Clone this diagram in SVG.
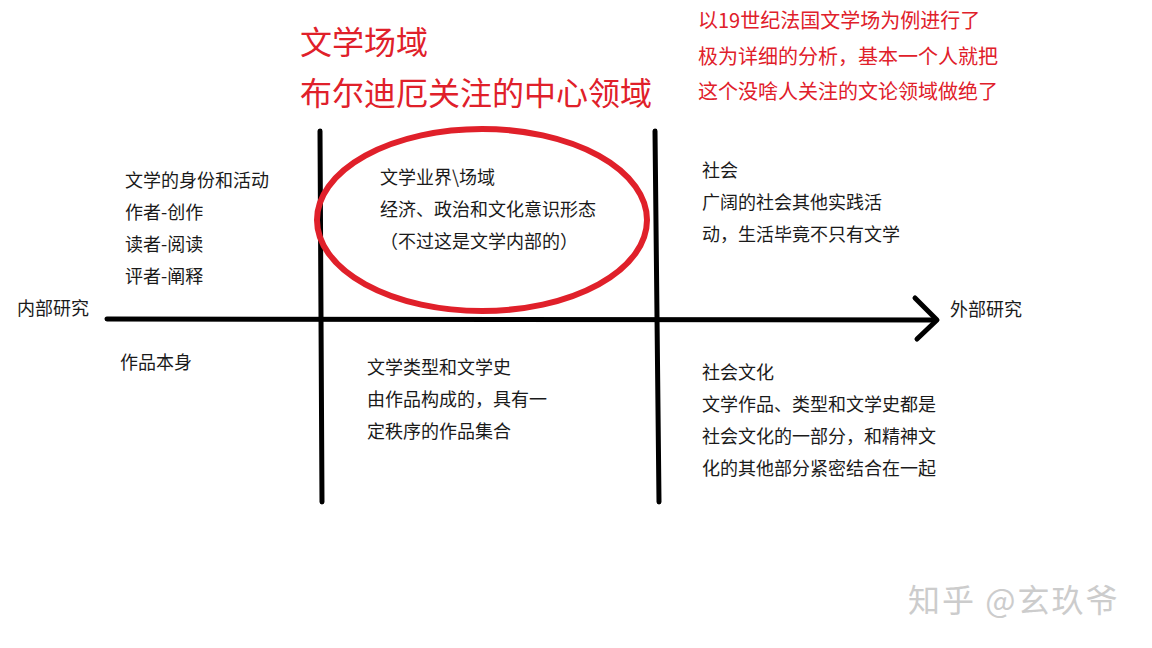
<svg xmlns="http://www.w3.org/2000/svg" width="1152" height="648" viewBox="0 0 1152 648">
<style>
text{font-family:"Noto Sans CJK SC","Noto Sans",sans-serif;}
.t{font-size:18px;fill:#1a1a1a;}
.r{fill:#e0202a;}
.ln{stroke:#000;stroke-width:5;stroke-linecap:round;fill:none;}
</style>
<rect width="1152" height="648" fill="#fff"/>
<g id="title">
<text class="r" x="300" y="54" font-size="32">文学场域</text>
<text class="r" x="300" y="105" font-size="32">布尔迪厄关注的中心领域</text>
</g>
<g id="note">
<text class="r" x="698" y="28" font-size="20">以19世纪法国文学场为例进行了</text>
<text class="r" x="698" y="64" font-size="20">极为详细的分析，基本一个人就把</text>
<text class="r" x="698" y="99" font-size="20">这个没啥人关注的文论领域做绝了</text>
</g>
<g id="connectors">
<line class="ln" x1="320" y1="131" x2="322" y2="502"/>
<line class="ln" x1="655" y1="131" x2="659" y2="502"/>
<line class="ln" x1="107" y1="319" x2="935" y2="320"/>
<polyline class="ln" points="915,298 937,320 917,339" stroke-linejoin="round"/>
</g>
<g id="field-ellipse">
<ellipse cx="482" cy="220" rx="165" ry="91" fill="none" stroke="#e0202a" stroke-width="6"/>
</g>
<g id="inner-top">
<text class="t" x="125" y="187">文学的身份和活动</text>
<text class="t" x="125" y="219">作者-创作</text>
<text class="t" x="125" y="251">读者-阅读</text>
<text class="t" x="125" y="283">评者-阐释</text>
</g>
<g id="middle-top">
<text class="t" x="380" y="184">文学业界\场域</text>
<text class="t" x="380" y="216">经济、政治和文化意识形态</text>
<text class="t" x="380" y="248">（不过这是文学内部的）</text>
</g>
<g id="outer-top">
<text class="t" x="702" y="177">社会</text>
<text class="t" x="702" y="209">广阔的社会其他实践活</text>
<text class="t" x="702" y="241">动，生活毕竟不只有文学</text>
</g>
<g id="axis-labels">
<text class="t" x="17" y="315">内部研究</text>
<text class="t" x="950" y="316">外部研究</text>
</g>
<g id="inner-bottom">
<text class="t" x="120" y="369">作品本身</text>
</g>
<g id="middle-bottom">
<text class="t" x="367" y="374">文学类型和文学史</text>
<text class="t" x="367" y="406">由作品构成的，具有一</text>
<text class="t" x="367" y="438">定秩序的作品集合</text>
</g>
<g id="outer-bottom">
<text class="t" x="702" y="379">社会文化</text>
<text class="t" x="702" y="411">文学作品、类型和文学史都是</text>
<text class="t" x="702" y="443">社会文化的一部分，和精神文</text>
<text class="t" x="702" y="475">化的其他部分紧密结合在一起</text>
</g>
<g id="watermark">
<text x="908" y="612" font-size="32" letter-spacing="2" fill="#cccccc">知乎 @玄玖爷</text>
</g>
</svg>
